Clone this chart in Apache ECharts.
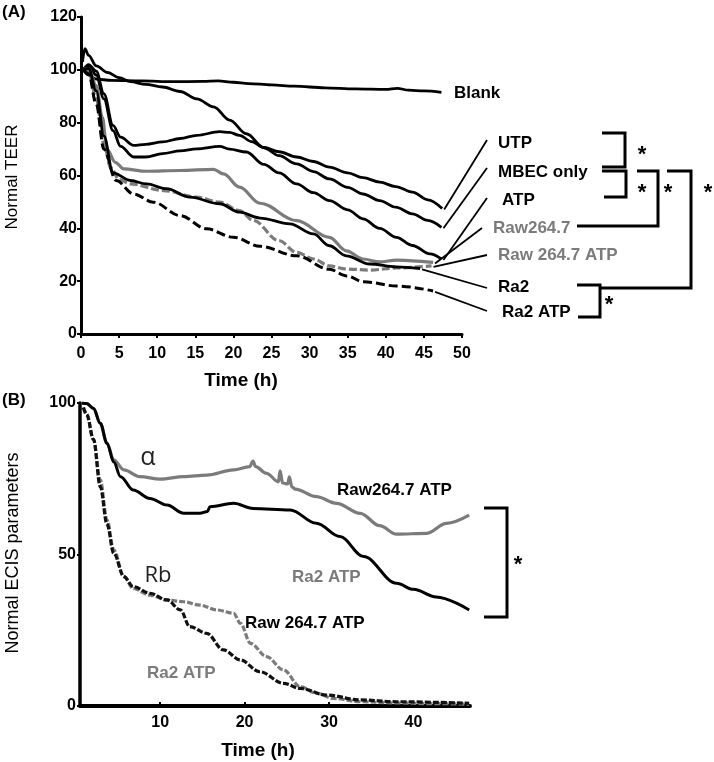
<!DOCTYPE html>
<html>
<head>
<meta charset="utf-8">
<script src="https://cdn.jsdelivr.net/npm/echarts@6/dist/echarts.min.js"></script>
<style>
html,body{margin:0;padding:0;background:#fff;}
#c{width:714px;height:762px;}
</style>
</head>
<body>
<div id="c"></div>
<script>
// ---------- Panel A: Normal TEER vs time ----------
const ticksA_x = [0, 50, 5];
const ticksA_y = [0, 120, 20];
const blankA = [[0.3,100],[1,98],[2,96.5],[4,96],[8,95.8],[12,95.5],[16,95.6],[18,95.8],[20,95.3],[22,94.8],[25,94.3],[28,93.8],[32,93.2],[36,92.8],[40,92.6],[41.5,93],[43,92.3],[45,92],[47.3,91.5]];
const utpA = [[0.2,103],[0.5,108],[1,105.5],[2,101.5],[3.5,99],[5,97],[6.5,95.5],[8.5,94.5],[10.7,93.5],[13,91.8],[15.2,89],[17.4,86],[19.5,81],[21.7,75.8],[24,70.6],[26,69],[28.3,67],[30.5,65.3],[32.6,63.2],[35,61],[37,59.2],[39.2,57.5],[41.3,55.8],[43.5,53.7],[45.5,50.8],[47.4,47.5]];
const mbecA = [[0.3,100],[1,102],[2,99.5],[3,91],[4.2,79],[5.2,74.5],[6.9,71.4],[8.5,71.8],[10.7,72.7],[13,74],[15.2,75.2],[18.2,76.6],[19.5,76.3],[20.8,75.2],[22.4,72.8],[24,70.5],[26,67.5],[28.3,64.4],[30.5,61.5],[32.6,58.7],[35,55.5],[37,53],[39.2,50.5],[41.3,48],[43.5,45.5],[45.5,43],[47.3,40.4]];
const atpA = [[0.3,100],[1,101.5],[2,98],[3,89],[4.2,77],[5.2,71],[6.9,67],[8.5,67],[10.7,68.3],[13,69.3],[15.2,70.1],[18.2,71],[19.5,70],[21.7,68.9],[24,64.2],[26,61],[28.3,56.8],[30.5,53.5],[32.6,50.5],[35,47],[37,43.6],[39.2,40],[41.4,36.6],[43.5,33.5],[45.8,30.3],[47.3,28.4]];
const raw264A = [[0.3,100],[1,100.5],[2,94],[2.8,82],[3.4,70],[4.5,65],[5.6,62.5],[8.6,61.6],[13,61.9],[17.4,62.3],[18.7,60.6],[20.8,55.6],[23.5,49.5],[28.3,42.9],[32.6,36.6],[34.8,31.5],[37,28.4],[39.2,27.3],[41.4,28],[43.5,27.7],[46.2,27.1]];
const raw264AtpA = [[0.3,100],[1,99.5],[2,89],[3,72],[3.9,63],[5,58.5],[6.5,56.8],[10.8,54.3],[15.2,51.8],[18.2,49.9],[20.8,46.7],[22.6,43],[26,35.3],[28.3,30.9],[30.5,28.4],[32.6,25.8],[34.8,24.6],[37.9,24.2],[41.4,25],[46,25.8]];
const ra2A = [[0.3,100],[1,100.5],[2,92],[3,75],[4.2,61],[6.5,58.1],[8.6,56.8],[11.2,55],[14.3,51.8],[18.2,49.3],[20.8,46.1],[23.5,43.9],[27.4,41.7],[30.5,37.9],[32.6,33.4],[34.8,29.6],[37.9,26.5],[41.4,25.4],[44.5,24.8]];
const ra2AtpA = [[0.3,100],[1,98.5],[2,87],[3,70],[4.6,58.1],[6.9,53],[9.5,49.9],[13,44.8],[16.5,39.8],[20,36.6],[23.5,33.2],[28.3,29.6],[32.6,24.5],[34.9,22],[37,19.8],[41.4,18.2],[46.2,16.3]];
const labelsA = ['Blank','UTP','MBEC only','ATP','Raw264.7','Raw 264.7 ATP','Ra2','Ra2 ATP'];

// ---------- Panel B: Normal ECIS parameters vs time ----------
const ticksB_x = [10, 20, 30, 40];
const ticksB_y = [0, 100, 50];
const alphaRawB = [[0.7,100],[1.3,99.8],[2.1,98.2],[2.9,93.3],[3.7,86.7],[4.5,81.2],[5.7,77.9],[7.6,75.7],[10,74.9],[12.8,75.7],[15.5,76.2],[18.7,77.9],[20.6,79],[21,80.8],[21.3,79],[22.6,76.8],[24,74],[24.2,77.6],[24.5,73.6],[25.1,73.3],[25.3,75.6],[25.6,72.3],[26,71.6],[28.5,69.1],[30.9,66.9],[33.7,63.6],[36,59.5],[38,56.7],[41.6,57],[43.9,60.3],[46.6,63]];
const alphaRa2B = [[0.7,100],[1.3,99.8],[2.1,98.2],[2.9,93.3],[3.7,86.7],[4.5,80.5],[5.3,75.7],[6.8,71.3],[8.8,68.5],[10.8,66.3],[12.8,63.6],[14.7,63.6],[15.6,64.2],[15.9,65.8],[18.7,66.9],[21,65.2],[25.4,64.7],[28.5,60.3],[31.3,55.9],[34.1,49.3],[38,40.5],[40,38.5],[42.7,36],[46.6,31.7]];
const rbRawB = [[0.9,98.5],[1.3,96.5],[2.1,87.8],[2.9,74.6],[3.7,61.4],[4.5,51.5],[5.7,42.7],[6.8,38.8],[8.8,36.6],[10.8,35],[12.8,34.4],[14.7,33.3],[16.7,31.7],[18.7,30.6],[19.5,27.3],[20.7,20.7],[22.6,16.3],[24.6,11.9],[26.6,6.4],[28.5,4.2],[30.5,2.5],[33.7,1.4],[38,1],[42,0.8],[46.6,0.6]];
const rbRa2B = [[0.9,98.5],[1.3,96],[2.1,88],[2.9,72.4],[3.7,60],[4.5,50.4],[5.7,42.7],[6.8,39.4],[8.8,37.2],[10.8,35],[12.4,31.7],[13.5,26.2],[15.5,24],[17.5,18.5],[19.5,15.2],[21.8,11.3],[24.6,7.5],[26.6,5.8],[29.7,3.6],[33.7,2],[38,1.4],[46.6,0.9]];

const BLACK = '#000000';
const GRAY = '#7b7b7b';
const FF = '"Liberation Sans", Arial, sans-serif';

function lineSeries(data, xi, color, width, dash) {
  return {
    type: 'line', xAxisIndex: xi, yAxisIndex: xi, data: data,
    showSymbol: false, symbol: 'none', smooth: 0.35, smoothMonotone: 'x',
    silent: true, animation: false,
    lineStyle: { color: color, width: width, type: dash || 'solid' }
  };
}

const axisLabelStyle = { color: '#000', fontWeight: 'bold', fontSize: 16, fontFamily: FF };

const chart = echarts.init(document.getElementById('c'), null, { renderer: 'canvas' });
chart.setOption({
  backgroundColor: '#fff',
  animation: false,
  grid: [
    { left: 81, top: 17, width: 381, height: 317 },
    { left: 80, top: 403, width: 390, height: 303 }
  ],
  xAxis: [
    { gridIndex: 0, type: 'value', min: ticksA_x[0], max: ticksA_x[1], interval: ticksA_x[2],
      axisLine: { show: true, lineStyle: { color: BLACK, width: 3 } },
      axisTick: { show: true, length: 4, lineStyle: { color: BLACK, width: 2 } },
      axisLabel: Object.assign({ margin: 12 }, axisLabelStyle),
      splitLine: { show: false } },
    { gridIndex: 1, type: 'value', min: 0.5, max: 46.7,
      axisLine: { show: true, lineStyle: { color: BLACK, width: 4 } },
      axisTick: { show: true, inside: true, length: 4, customValues: ticksB_x, lineStyle: { color: BLACK, width: 2 } },
      axisLabel: Object.assign({ margin: 9, customValues: ticksB_x }, axisLabelStyle),
      splitLine: { show: false } }
  ],
  yAxis: [
    { gridIndex: 0, type: 'value', min: ticksA_y[0], max: ticksA_y[1], interval: ticksA_y[2],
      axisLine: { show: true, lineStyle: { color: BLACK, width: 3 } },
      axisTick: { show: true, length: 4, lineStyle: { color: BLACK, width: 2 } },
      axisLabel: Object.assign({ margin: 4 }, axisLabelStyle),
      splitLine: { show: false } },
    { gridIndex: 1, type: 'value', min: ticksB_y[0], max: ticksB_y[1], interval: ticksB_y[2],
      axisLine: { show: true, lineStyle: { color: BLACK, width: 3.5 } },
      axisTick: { show: true, length: 3, lineStyle: { color: BLACK, width: 2 } },
      axisLabel: Object.assign({ margin: 4 }, axisLabelStyle),
      splitLine: { show: false } }
  ],
  series: [
    lineSeries(blankA, 0, BLACK, 2.8),
    lineSeries(utpA, 0, BLACK, 2.8),
    lineSeries(mbecA, 0, BLACK, 2.8),
    lineSeries(atpA, 0, BLACK, 2.8),
    lineSeries(raw264A, 0, GRAY, 3.2),
    lineSeries(raw264AtpA, 0, GRAY, 3.2, [8, 3]),
    lineSeries(ra2A, 0, BLACK, 2.8),
    lineSeries(ra2AtpA, 0, BLACK, 3, [9, 4]),
    lineSeries(alphaRawB, 1, GRAY, 3.2),
    lineSeries(alphaRa2B, 1, BLACK, 3),
    lineSeries(rbRawB, 1, GRAY, 3.2, [6, 2]),
    lineSeries(rbRa2B, 1, '#111', 3.2, [6, 2])
  ]
});

// end points of curves in pixels (for leader lines)
const seriesA = [blankA, utpA, mbecA, atpA, raw264A, raw264AtpA, ra2A, ra2AtpA];
const ends = seriesA.map(d => chart.convertToPixel({ gridIndex: 0 }, d[d.length - 1]));

function txt(s, x, y, opt) {
  opt = opt || {};
  return { type: 'text', silent: true, z: 100,
    style: { text: s, x: x, y: y,
      font: (opt.weight || 'bold') + ' ' + (opt.size || 17) + 'px ' + (opt.family || FF),
      fill: opt.color || '#000', textAlign: opt.align || 'left', textVerticalAlign: 'middle' } };
}
function seg(x1, y1, x2, y2, w) {
  return { type: 'line', silent: true, z: 100, shape: { x1, y1, x2, y2 }, style: { stroke: '#000', lineWidth: w || 1.8 } };
}
function poly(pts, w) {
  return { type: 'polyline', silent: true, z: 100, shape: { points: pts }, style: { stroke: '#000', lineWidth: w || 3, fill: null } };
}

// label positions (left x, center y) and leader start points
const labelPos = [
  [454, 93, BLACK], [498, 143, BLACK], [498, 172, BLACK], [502, 200, BLACK],
  [493, 228, GRAY], [498, 255, GRAY], [498, 287, BLACK], [502, 312, BLACK]
];
const leaderStart = [null, [487, 140], [487, 168], [487, 198], [482, 228], [487, 255], [487, 288], [487, 311]];

const g = [];
g.push(txt('(A)', 2, 12, { size: 17 }));
g.push(txt('(B)', 2, 400, { size: 17 }));
g.push(txt('Time (h)', 241, 381, { size: 19, align: 'center' }));
g.push(txt('Time (h)', 258, 751, { size: 19, align: 'center' }));
g.push({ type: 'text', silent: true, z: 100, x: 12, y: 177, rotation: Math.PI / 2,
  style: { text: 'Normal TEER', x: 0, y: 0, font: '17px ' + FF, fill: '#000', textAlign: 'center', textVerticalAlign: 'middle' } });
g.push({ type: 'text', silent: true, z: 100, x: 13, y: 553, rotation: Math.PI / 2,
  style: { text: 'Normal ECIS parameters', x: 0, y: 0, font: '18px ' + FF, fill: '#000', textAlign: 'center', textVerticalAlign: 'middle' } });

labelsA.forEach((s, i) => {
  g.push(txt(s, labelPos[i][0], labelPos[i][1], { color: labelPos[i][2] }));
  if (leaderStart[i]) {
    const e = ends[i];
    g.push(seg(leaderStart[i][0], leaderStart[i][1], e[0] + 2, e[1] + 1, 1.8));
  }
});

// significance brackets, panel A
g.push(poly([[602, 133], [625, 133], [625, 167], [602, 167]]));
g.push(poly([[602, 171], [626, 171], [626, 197], [604, 197]]));
g.push(poly([[637, 171], [658, 171], [658, 226], [577, 226]]));
g.push(poly([[667, 171], [691, 171], [691, 288], [600, 288]]));
g.push(poly([[577, 285], [600, 285], [600, 317], [578, 317]]));
const starA = [[642, 150], [642, 188], [668, 188], [708, 188], [609, 300]];
starA.forEach(p => g.push(txt('*', p[0], p[1] + 5, { size: 22, align: 'center' })));

// panel B annotations
g.push(txt('α', 148, 458, { size: 25, weight: 'normal', family: '"Open Sans", "DejaVu Sans", sans-serif', color: '#222', align: 'center' }));
g.push(txt('Rb', 158, 576, { size: 22, weight: 'normal', family: '"Open Sans", "DejaVu Sans", sans-serif', color: '#222', align: 'center' }));
g.push(txt('Raw264.7 ATP', 337, 490, { size: 17 }));
g.push(txt('Ra2 ATP', 292, 577, { size: 17, color: GRAY }));
g.push(txt('Raw 264.7 ATP', 245, 623, { size: 17 }));
g.push(txt('Ra2 ATP', 147, 673, { size: 17, color: GRAY }));
g.push(poly([[484, 508], [507, 508], [507, 617], [484, 617]]));
g.push(txt('*', 518, 565, { size: 22, align: 'center' }));

chart.setOption({ graphic: { elements: g } });
</script>
</body>
</html>
